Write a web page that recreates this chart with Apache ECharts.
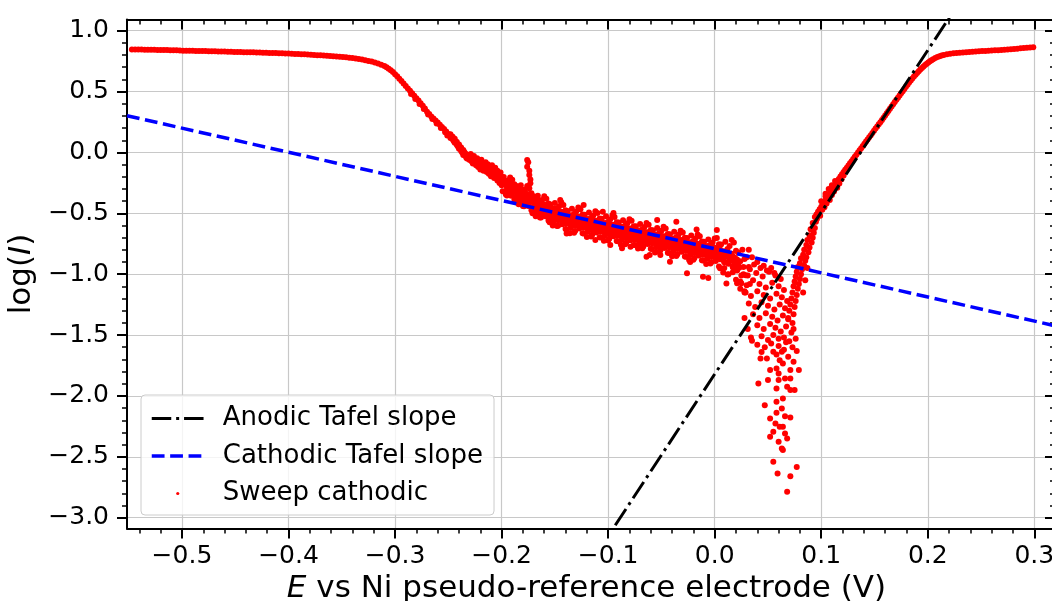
<!DOCTYPE html>
<html>
<head>
<meta charset="utf-8">
<script src="https://cdn.jsdelivr.net/npm/echarts@6/dist/echarts.min.js"></script>
<style>
html,body{margin:0;padding:0;background:#fff;}
#chart{width:1052px;height:601px;}
</style>
</head>
<body>
<div id="chart"></div>
<script>
// Tick positions
const xTicks = [-0.5, -0.4, -0.3, -0.2, -0.1, 0.0, 0.1, 0.2, 0.3];
const yTicks = [-3.0, -2.5, -2.0, -1.5, -1.0, -0.5, 0.0, 0.5, 1.0];

// Tafel fit lines (two end points each, clipped by the axes)
const anodicTafel = [[-0.110, -3.284], [0.235, 1.305]];
const cathodicTafel = [[-0.5516, 0.302], [0.319, -1.423]];

// Cathodic sweep, log(I) against E
const sweepPlateauLow = [
[-0.547,0.846],[-0.544,0.846],[-0.541,0.845],[-0.538,0.845],[-0.535,0.844],[-0.532,0.844],[-0.529,0.843],[-0.526,0.843],
[-0.523,0.842],[-0.520,0.842],[-0.517,0.841],[-0.514,0.841],[-0.511,0.840],[-0.508,0.840],[-0.505,0.839],[-0.502,0.838],
[-0.499,0.836],[-0.496,0.836],[-0.493,0.835],[-0.490,0.835],[-0.487,0.834],[-0.484,0.834],[-0.481,0.833],[-0.478,0.833],
[-0.475,0.832],[-0.472,0.831],[-0.469,0.831],[-0.466,0.830],[-0.463,0.829],[-0.460,0.829],[-0.457,0.828],[-0.454,0.827],
[-0.451,0.826],[-0.448,0.826],[-0.445,0.825],[-0.442,0.824],[-0.439,0.823],[-0.436,0.822],[-0.433,0.822],[-0.430,0.821],
[-0.427,0.820],[-0.424,0.819],[-0.421,0.818],[-0.418,0.817],[-0.415,0.816],[-0.412,0.816],[-0.409,0.815],[-0.406,0.814],
[-0.403,0.813],[-0.400,0.812],[-0.397,0.810],[-0.394,0.809],[-0.391,0.808],[-0.388,0.807],[-0.385,0.806],[-0.382,0.804],
[-0.379,0.803],[-0.376,0.801],[-0.373,0.799],[-0.370,0.798],[-0.367,0.796],[-0.364,0.794],[-0.361,0.792],[-0.358,0.790],
[-0.355,0.788],[-0.352,0.786],[-0.349,0.783],[-0.346,0.781],[-0.343,0.778],[-0.340,0.775],[-0.337,0.771],[-0.334,0.767],
[-0.331,0.763],[-0.328,0.758],[-0.325,0.752],[-0.322,0.746],[-0.319,0.739],[-0.316,0.731],[-0.313,0.721],[-0.310,0.710]
];
const sweepFall = [
[-0.308,0.700],[-0.306,0.688],[-0.304,0.675],[-0.302,0.660],[-0.300,0.643],[-0.298,0.625],[-0.296,0.606],[-0.294,0.586],
[-0.292,0.566],[-0.290,0.546],[-0.288,0.526],[-0.286,0.506],[-0.284,0.486],[-0.282,0.466],[-0.280,0.446],[-0.278,0.426],
[-0.276,0.405],[-0.274,0.384],[-0.272,0.360],[-0.270,0.335],[-0.268,0.315],[-0.266,0.296],[-0.264,0.279],[-0.262,0.262],
[-0.260,0.245],[-0.258,0.228],[-0.256,0.210],[-0.254,0.192],[-0.252,0.172],[-0.250,0.152],
[-0.285,0.480],[-0.281,0.440],[-0.277,0.398],[-0.273,0.356],[-0.269,0.312],[-0.265,0.275],[-0.261,0.238],[-0.257,0.200],
[-0.253,0.165],[-0.251,0.140],
[-0.248,0.150],[-0.248,0.118],[-0.247,0.132],[-0.246,0.108],[-0.246,0.128],[-0.245,0.095],[-0.244,0.112],[-0.244,0.080],
[-0.243,0.090],[-0.242,0.062],[-0.242,0.085],[-0.241,0.048],[-0.240,0.066],[-0.240,0.030],[-0.239,0.045],[-0.238,0.012],
[-0.238,0.040],[-0.237,0.000],[-0.236,0.020],[-0.236,-0.022],[-0.235,0.004],[-0.234,-0.030],[-0.234,-0.008],[-0.233,-0.045],
[-0.232,-0.018],[-0.232,-0.052],[-0.231,-0.030],[-0.230,-0.062],[-0.230,-0.040],[-0.229,-0.012],[-0.228,-0.075],[-0.228,-0.050],
[-0.227,-0.090],[-0.226,-0.062],[-0.226,-0.030],[-0.225,-0.085],[-0.224,-0.105],[-0.224,-0.070],[-0.223,-0.048],[-0.222,-0.095],
[-0.222,-0.120],[-0.221,-0.075],[-0.220,-0.110],[-0.220,-0.140],[-0.219,-0.060],[-0.218,-0.125],[-0.218,-0.092],[-0.217,-0.150],
[-0.216,-0.110],[-0.216,-0.135],[-0.215,-0.080],[-0.214,-0.160],[-0.214,-0.125],[-0.213,-0.098],[-0.212,-0.145],[-0.212,-0.175],
[-0.211,-0.120],[-0.210,-0.160],[-0.210,-0.195],[-0.209,-0.105],[-0.208,-0.140],[-0.208,-0.180],[-0.207,-0.210],[-0.206,-0.160],
[-0.206,-0.125],[-0.205,-0.195],[-0.204,-0.230],[-0.204,-0.150],[-0.203,-0.180],[-0.202,-0.215],[-0.202,-0.250],[-0.201,-0.165],
[-0.200,-0.200],[-0.200,-0.270],[-0.199,-0.235]
];
const sweepBand = [
[-0.198,-0.202],[-0.196,-0.234],[-0.197,-0.262],[-0.195,-0.290],[-0.199,-0.318],[-0.196,-0.346],
[-0.194,-0.231],[-0.192,-0.265],[-0.193,-0.294],[-0.191,-0.324],[-0.195,-0.354],[-0.192,-0.205],
[-0.190,-0.225],[-0.188,-0.261],[-0.189,-0.292],[-0.187,-0.324],[-0.191,-0.355],[-0.188,-0.387],
[-0.186,-0.276],[-0.184,-0.312],[-0.185,-0.339],[-0.183,-0.371],[-0.187,-0.402],[-0.184,-0.425],
[-0.182,-0.269],[-0.180,-0.307],[-0.181,-0.341],[-0.179,-0.374],[-0.183,-0.407],[-0.180,-0.440],
[-0.178,-0.304],[-0.176,-0.342],[-0.177,-0.375],[-0.175,-0.408],[-0.179,-0.441],[-0.176,-0.275],
[-0.174,-0.295],[-0.172,-0.335],[-0.173,-0.370],[-0.171,-0.405],[-0.175,-0.440],[-0.172,-0.475],
[-0.170,-0.360],[-0.168,-0.400],[-0.169,-0.430],[-0.167,-0.465],[-0.171,-0.500],[-0.168,-0.525],
[-0.166,-0.355],[-0.164,-0.395],[-0.165,-0.430],[-0.163,-0.465],[-0.167,-0.500],[-0.164,-0.535],
[-0.162,-0.390],[-0.160,-0.430],[-0.161,-0.465],[-0.159,-0.500],[-0.163,-0.535],[-0.160,-0.360],
[-0.158,-0.380],[-0.156,-0.420],[-0.157,-0.455],[-0.155,-0.490],[-0.159,-0.525],[-0.156,-0.560],
[-0.154,-0.427],[-0.152,-0.469],[-0.153,-0.501],[-0.151,-0.537],[-0.155,-0.574],[-0.152,-0.600],
[-0.150,-0.416],[-0.148,-0.458],[-0.149,-0.495],[-0.147,-0.531],[-0.151,-0.568],[-0.148,-0.605],
[-0.146,-0.443],[-0.144,-0.487],[-0.145,-0.526],[-0.143,-0.564],[-0.147,-0.603],[-0.144,-0.410],
[-0.142,-0.431],[-0.140,-0.475],[-0.141,-0.513],[-0.139,-0.552],[-0.143,-0.590],[-0.140,-0.629],
[-0.138,-0.481],[-0.136,-0.525],[-0.137,-0.558],[-0.135,-0.597],[-0.139,-0.635],[-0.136,-0.663],
[-0.134,-0.462],[-0.132,-0.506],[-0.133,-0.544],[-0.131,-0.583],[-0.135,-0.621],[-0.132,-0.660],
[-0.130,-0.485],[-0.128,-0.529],[-0.129,-0.568],[-0.127,-0.606],[-0.131,-0.645],[-0.128,-0.452],
[-0.126,-0.466],[-0.124,-0.510],[-0.125,-0.548],[-0.123,-0.587],[-0.127,-0.625],[-0.124,-0.664],
[-0.122,-0.512],[-0.120,-0.556],[-0.121,-0.589],[-0.119,-0.628],[-0.123,-0.666],[-0.120,-0.694],
[-0.118,-0.493],[-0.116,-0.537],[-0.117,-0.575],[-0.115,-0.614],[-0.119,-0.652],[-0.116,-0.691],
[-0.114,-0.517],[-0.112,-0.561],[-0.113,-0.600],[-0.111,-0.638],[-0.115,-0.677],[-0.112,-0.484],
[-0.110,-0.498],[-0.108,-0.542],[-0.109,-0.580],[-0.107,-0.619],[-0.111,-0.657],[-0.108,-0.696],
[-0.106,-0.544],[-0.104,-0.588],[-0.105,-0.621],[-0.103,-0.660],[-0.107,-0.698],[-0.104,-0.726],
[-0.102,-0.525],[-0.100,-0.569],[-0.101,-0.607],[-0.099,-0.646],[-0.103,-0.684],[-0.100,-0.723],
[-0.098,-0.549],[-0.096,-0.593],[-0.097,-0.632],[-0.095,-0.670],[-0.099,-0.709],[-0.096,-0.516],
[-0.094,-0.530],[-0.092,-0.574],[-0.093,-0.612],[-0.091,-0.651],[-0.095,-0.689],[-0.092,-0.728],
[-0.090,-0.576],[-0.088,-0.620],[-0.089,-0.653],[-0.087,-0.692],[-0.091,-0.730],[-0.088,-0.758],
[-0.086,-0.557],[-0.084,-0.601],[-0.085,-0.639],[-0.083,-0.678],[-0.087,-0.716],[-0.084,-0.755],
[-0.082,-0.581],[-0.080,-0.625],[-0.081,-0.664],[-0.079,-0.702],[-0.083,-0.741],[-0.080,-0.548],
[-0.078,-0.562],[-0.076,-0.606],[-0.077,-0.644],[-0.075,-0.683],[-0.079,-0.721],[-0.076,-0.760],
[-0.074,-0.607],[-0.072,-0.651],[-0.073,-0.684],[-0.071,-0.723],[-0.075,-0.761],[-0.072,-0.789],
[-0.070,-0.588],[-0.068,-0.632],[-0.069,-0.670],[-0.067,-0.709],[-0.071,-0.747],[-0.068,-0.786],
[-0.066,-0.612],[-0.064,-0.656],[-0.065,-0.695],[-0.063,-0.733],[-0.067,-0.772],[-0.064,-0.579],
[-0.062,-0.593],[-0.060,-0.637],[-0.061,-0.675],[-0.059,-0.714],[-0.063,-0.752],[-0.060,-0.791],
[-0.058,-0.639],[-0.056,-0.683],[-0.057,-0.716],[-0.055,-0.755],[-0.059,-0.793],[-0.056,-0.821],
[-0.054,-0.620],[-0.052,-0.664],[-0.053,-0.702],[-0.051,-0.741],[-0.055,-0.779],[-0.052,-0.818],
[-0.050,-0.644],[-0.048,-0.688],[-0.049,-0.727],[-0.047,-0.765],[-0.051,-0.804],[-0.048,-0.611],
[-0.046,-0.625],[-0.044,-0.669],[-0.045,-0.707],[-0.043,-0.746],[-0.047,-0.784],[-0.044,-0.823],
[-0.042,-0.671],[-0.040,-0.715],[-0.041,-0.748],[-0.039,-0.787],[-0.043,-0.825],[-0.040,-0.853],
[-0.038,-0.652],[-0.036,-0.696],[-0.037,-0.734],[-0.035,-0.773],[-0.039,-0.811],[-0.036,-0.850],
[-0.034,-0.676],[-0.032,-0.720],[-0.033,-0.759],[-0.031,-0.797],[-0.035,-0.836],[-0.032,-0.643],
[-0.030,-0.657],[-0.028,-0.701],[-0.029,-0.739],[-0.027,-0.778],[-0.031,-0.816],[-0.028,-0.855],
[-0.026,-0.702],[-0.024,-0.746],[-0.025,-0.779],[-0.023,-0.818],[-0.027,-0.856],[-0.024,-0.884],
[-0.022,-0.683],[-0.020,-0.727],[-0.021,-0.765],[-0.019,-0.804],[-0.023,-0.842],[-0.020,-0.881],
[-0.018,-0.707],[-0.016,-0.751],[-0.017,-0.790],[-0.015,-0.828],[-0.019,-0.867],[-0.016,-0.674],
[-0.014,-0.688],[-0.012,-0.732],[-0.013,-0.770],[-0.011,-0.809],[-0.015,-0.847],[-0.012,-0.886],
[-0.010,-0.734],[-0.008,-0.778],[-0.009,-0.811],[-0.007,-0.850],[-0.011,-0.888],[-0.008,-0.916],
[-0.006,-0.715],[-0.004,-0.759],[-0.005,-0.797],[-0.003,-0.836],[-0.007,-0.874],[-0.004,-0.913],
[-0.002,-0.739],[0.000,-0.783],[-0.001,-0.822],[0.001,-0.860],[-0.003,-0.899],[0.000,-0.706],
[0.002,-0.703],[0.004,-0.755],[0.003,-0.800],[0.005,-0.846],[0.001,-0.891],[0.004,-0.937],
[0.006,-0.756],[0.008,-0.812],[0.007,-0.854],[0.009,-0.903],[0.005,-0.952],[0.008,-0.987],
[0.010,-0.733],[0.012,-0.793],[0.011,-0.845],[0.013,-0.898],[0.009,-0.950],[0.012,-1.003],
[0.014,-0.768],[0.016,-0.832],[0.015,-0.888],[0.017,-0.944],[0.013,-1.000],[0.016,-0.720],
[0.018,-0.739],[0.020,-0.807],[0.019,-0.866],[0.021,-0.926],[0.017,-0.985],[0.020,-1.045],
[0.022,-0.822],[0.024,-0.894],[0.023,-0.948],[0.025,-1.011],[0.021,-1.074],[0.024,-1.119],
[0.026,-0.799],[0.028,-0.875],[0.027,-0.941],[0.029,-1.008],[0.025,-1.074],[0.028,-1.141],
[0.030,-0.860],[0.032,-0.940],[0.031,-1.010],[0.033,-1.080],[0.029,-1.150],[0.032,-0.800],
[0.035,-0.860],[0.037,-0.920],[0.040,-0.900],[0.043,-0.950],[0.046,-0.930],[0.049,-0.970],[0.053,-0.950],[0.056,-0.990]
];
const sweepBandCore = [
[-0.195,-0.245],[-0.194,-0.285],[-0.195,-0.325],[-0.191,-0.265],[-0.190,-0.305],[-0.191,-0.345],
[-0.187,-0.285],[-0.186,-0.325],[-0.187,-0.365],[-0.183,-0.305],[-0.182,-0.345],[-0.183,-0.385],
[-0.179,-0.325],[-0.178,-0.365],[-0.179,-0.405],[-0.175,-0.345],[-0.174,-0.385],[-0.175,-0.425],
[-0.171,-0.370],[-0.170,-0.410],[-0.171,-0.450],[-0.167,-0.395],[-0.166,-0.435],[-0.167,-0.475],
[-0.163,-0.415],[-0.162,-0.455],[-0.163,-0.495],[-0.159,-0.432],[-0.158,-0.472],[-0.159,-0.512],
[-0.155,-0.447],[-0.154,-0.487],[-0.155,-0.527],[-0.151,-0.462],[-0.150,-0.502],[-0.151,-0.542],
[-0.147,-0.477],[-0.146,-0.517],[-0.147,-0.557],[-0.143,-0.492],[-0.142,-0.532],[-0.143,-0.572],
[-0.139,-0.506],[-0.138,-0.546],[-0.139,-0.586],[-0.135,-0.516],[-0.134,-0.556],[-0.135,-0.596],
[-0.131,-0.523],[-0.130,-0.563],[-0.131,-0.603],[-0.127,-0.531],[-0.126,-0.571],[-0.127,-0.611],
[-0.123,-0.539],[-0.122,-0.579],[-0.123,-0.619],[-0.119,-0.547],[-0.118,-0.587],[-0.119,-0.627],
[-0.115,-0.555],[-0.114,-0.595],[-0.115,-0.635],[-0.111,-0.563],[-0.110,-0.603],[-0.111,-0.643],
[-0.107,-0.571],[-0.106,-0.611],[-0.107,-0.651],[-0.103,-0.579],[-0.102,-0.619],[-0.103,-0.659],
[-0.099,-0.587],[-0.098,-0.627],[-0.099,-0.667],[-0.095,-0.595],[-0.094,-0.635],[-0.095,-0.675],
[-0.091,-0.603],[-0.090,-0.643],[-0.091,-0.683],[-0.087,-0.611],[-0.086,-0.651],[-0.087,-0.691],
[-0.083,-0.619],[-0.082,-0.659],[-0.083,-0.699],[-0.079,-0.627],[-0.078,-0.667],[-0.079,-0.707],
[-0.075,-0.635],[-0.074,-0.675],[-0.075,-0.715],[-0.071,-0.642],[-0.070,-0.682],[-0.071,-0.722],
[-0.067,-0.650],[-0.066,-0.690],[-0.067,-0.730],[-0.063,-0.658],[-0.062,-0.698],[-0.063,-0.738],
[-0.059,-0.666],[-0.058,-0.706],[-0.059,-0.746],[-0.055,-0.674],[-0.054,-0.714],[-0.055,-0.754],
[-0.051,-0.682],[-0.050,-0.722],[-0.051,-0.762],[-0.047,-0.690],[-0.046,-0.730],[-0.047,-0.770],
[-0.043,-0.698],[-0.042,-0.738],[-0.043,-0.778],[-0.039,-0.706],[-0.038,-0.746],[-0.039,-0.786],
[-0.035,-0.714],[-0.034,-0.754],[-0.035,-0.794],[-0.031,-0.722],[-0.030,-0.762],[-0.031,-0.802],
[-0.027,-0.730],[-0.026,-0.770],[-0.027,-0.810],[-0.023,-0.737],[-0.022,-0.777],[-0.023,-0.817],
[-0.019,-0.745],[-0.018,-0.785],[-0.019,-0.825],[-0.015,-0.753],[-0.014,-0.793],[-0.015,-0.833],
[-0.011,-0.761],[-0.010,-0.801],[-0.011,-0.841],[-0.007,-0.769],[-0.006,-0.809],[-0.007,-0.849],
[-0.003,-0.777],[-0.002,-0.817],[-0.003,-0.857],[0.001,-0.786],[0.002,-0.826],[0.001,-0.866],
[0.005,-0.798],[0.006,-0.838],[0.005,-0.878],[0.009,-0.815],[0.010,-0.855],[0.009,-0.895],
[0.013,-0.835],[0.014,-0.875],[0.013,-0.915],[0.017,-0.855],[0.018,-0.895],[0.017,-0.935],
[0.021,-0.880],[0.022,-0.920],[0.021,-0.960]
];
const sweepStray = [
[-0.176,-0.062],[-0.175,-0.080],[-0.176,-0.118],[-0.174,-0.150],[-0.174,-0.186],[-0.173,-0.222],[-0.173,-0.254],
[-0.145,-0.391],[-0.123,-0.432],[-0.105,-0.487],[-0.095,-0.498],[-0.054,-0.555],[-0.036,-0.569],[-0.017,-0.632],[0.002,-0.638],
[-0.087,-0.788],[-0.061,-0.843],[-0.042,-0.898],[-0.026,-0.993],[-0.011,-1.021],[-0.006,-1.032],[0.011,-1.076],[-0.139,-0.665],
[-0.064,-0.857],[-0.079,-0.775],[-0.112,-0.720],[-0.098,-0.761],[-0.023,-0.900],[-0.051,-0.843]
];
const sweepDip = [
[0.021,-0.970],[0.027,-1.000],[0.033,-0.960],[0.039,-0.990],[0.045,-1.020],[0.051,-0.980],[0.057,-1.010],[0.062,-1.040],
[0.024,-1.060],[0.030,-1.090],[0.036,-1.050],[0.042,-1.080],[0.048,-1.110],[0.054,-1.070],[0.060,-1.100],[0.065,-1.130],
[0.028,-1.150],[0.034,-1.180],[0.040,-1.140],[0.046,-1.170],[0.052,-1.200],[0.058,-1.160],[0.063,-1.190],[0.068,-1.220],
[0.032,-1.240],[0.038,-1.270],[0.044,-1.230],[0.050,-1.260],[0.056,-1.290],[0.061,-1.250],[0.066,-1.280],
[0.036,-1.330],[0.042,-1.360],[0.048,-1.320],[0.054,-1.350],[0.059,-1.380],[0.064,-1.340],[0.069,-1.370],[0.074,-1.450],
[0.040,-1.420],[0.046,-1.450],[0.052,-1.410],[0.057,-1.440],[0.062,-1.470],[0.067,-1.430],[0.072,-1.480],
[0.044,-1.510],[0.050,-1.540],[0.055,-1.500],[0.060,-1.530],[0.065,-1.520],[0.070,-1.550],[0.076,-1.530],
[0.031,-1.450],[0.034,-1.520],[0.028,-1.360],[0.035,-1.547],
[0.040,-1.580],[0.047,-1.600],[0.053,-1.570],[0.060,-1.590],[0.067,-1.560],[0.073,-1.600],[0.077,-1.630],[0.044,-1.640],
[0.058,-1.660],[0.065,-1.620],
[0.049,-1.692],[0.061,-1.706],[0.074,-1.720],[0.069,-1.679],[0.055,-1.638],[0.063,-1.638],[0.064,-1.733],[0.043,-1.692],
[0.052,-1.788],[0.060,-1.815],[0.066,-1.856],[0.079,-1.788],[0.071,-1.788],[0.058,-1.774],[0.071,-1.856],[0.060,-1.870],
[0.050,-1.870],[0.041,-1.897],[0.075,-1.952],[0.058,-1.938],[0.068,-1.925],[0.071,-1.952],[0.064,-2.021],[0.047,-2.076],
[0.058,-2.048],[0.063,-2.103],[0.058,-2.139],[0.066,-2.166],[0.052,-2.185],[0.071,-2.177],[0.057,-2.226],[0.061,-2.254],
[0.064,-2.254],[0.055,-2.295],[0.066,-2.308],[0.052,-2.336],[0.068,-2.349],[0.060,-2.377],[0.063,-2.431],[0.064,-2.445],
[0.055,-2.541],[0.077,-2.583],[0.059,-2.637],[0.071,-2.659],[0.068,-2.788],
[0.095,-0.570],[0.092,-0.580],[0.094,-0.620],[0.090,-0.630],[0.093,-0.660],[0.089,-0.680],[0.092,-0.700],[0.087,-0.720],
[0.091,-0.740],[0.086,-0.760],[0.089,-0.780],[0.084,-0.800],[0.088,-0.820],[0.083,-0.840],[0.086,-0.860],[0.081,-0.870],
[0.085,-0.890],[0.080,-0.910],[0.084,-0.930],[0.078,-0.940],[0.082,-0.960],[0.077,-0.980],[0.081,-1.000],[0.076,-1.020],
[0.080,-1.040],[0.075,-1.060],[0.079,-1.080],[0.074,-1.100],[0.078,-1.120],[0.073,-1.150],[0.077,-1.170],[0.072,-1.200],
[0.076,-1.220],[0.071,-1.250],[0.075,-1.270],[0.070,-1.300],[0.074,-1.330],[0.069,-1.360],[0.073,-1.400],[0.087,-0.950],
[0.085,-1.050],[0.083,-1.150]
];
const sweepRise = [
[0.094,-0.530],[0.0955,-0.509],[0.097,-0.488],[0.0985,-0.467],[0.100,-0.446],[0.1015,-0.425],[0.103,-0.404],[0.1045,-0.383],
[0.106,-0.362],[0.1075,-0.341],[0.109,-0.320],[0.1105,-0.299],[0.112,-0.278],[0.1135,-0.258],[0.115,-0.238],[0.1165,-0.218],
[0.118,-0.197],[0.1195,-0.179],[0.121,-0.161],[0.1225,-0.143],[0.124,-0.125],[0.1255,-0.107],[0.127,-0.089],[0.1285,-0.072],
[0.130,-0.054],[0.1315,-0.036],[0.133,-0.018],[0.1345,0.000],[0.136,0.017],[0.1375,0.035],[0.139,0.053],[0.1405,0.071],
[0.142,0.089],[0.1435,0.107],[0.145,0.124],[0.1465,0.142],[0.148,0.160],[0.1495,0.178],[0.151,0.196],[0.1525,0.214],
[0.154,0.231],[0.1555,0.249],[0.157,0.267],[0.1585,0.285],[0.160,0.304],[0.1615,0.322],[0.163,0.340],[0.1645,0.359],
[0.166,0.377],[0.1675,0.395],[0.169,0.414],[0.1705,0.432],[0.172,0.450],[0.1735,0.468],[0.175,0.486],[0.1765,0.503],
[0.178,0.521],[0.1795,0.539],[0.181,0.557],[0.1825,0.574],[0.184,0.591],[0.1855,0.607],[0.187,0.623],[0.1885,0.638],
[0.190,0.653],[0.1915,0.667],[0.193,0.681],[0.1945,0.694],[0.196,0.706],[0.1975,0.718],[0.199,0.729],[0.2005,0.739],
[0.202,0.749],[0.2035,0.758],[0.205,0.766],[0.207,0.775],[0.209,0.783],[0.211,0.790],[0.213,0.796],[0.215,0.801],
[0.218,0.806],[0.221,0.810],[0.224,0.814],[0.227,0.817],
[0.096,-0.545],[0.099,-0.520],[0.101,-0.470],[0.103,-0.450],[0.105,-0.420],[0.108,-0.390],[0.110,-0.350],[0.112,-0.320],
[0.115,-0.290],[0.117,-0.255],[0.119,-0.220],[0.121,-0.190],[0.110,-0.270],[0.107,-0.300],[0.104,-0.340],[0.113,-0.235],
[0.100,-0.400],[0.104,-0.360]
];
const sweepPlateauHigh = [
[0.230,0.819],[0.233,0.821],[0.236,0.823],[0.239,0.825],[0.242,0.827],[0.245,0.829],[0.248,0.831],[0.251,0.833],
[0.254,0.834],[0.257,0.836],[0.260,0.837],[0.263,0.839],[0.266,0.840],[0.269,0.842],[0.272,0.844],[0.275,0.846],
[0.278,0.848],[0.281,0.850],[0.284,0.852],[0.287,0.855],[0.290,0.857],[0.293,0.860],[0.296,0.862],[0.299,0.864]
];

const sweepCathodic = [].concat(sweepPlateauLow, sweepFall, sweepBand, sweepBandCore, sweepStray, sweepDip, sweepRise, sweepPlateauHigh);

const FONT = 'DejaVu Sans';
const X_RANGE = [-0.5516, 0.3194];
const Y_RANGE = [-3.089, 1.092];
const fmt = v => (v < 0 ? '\u2212' : '') + Math.abs(v).toFixed(1);

const spine = { show: true, onZero: false, lineStyle: { color: '#000', width: 2 } };
const minor = { show: true, splitNumber: 5, length: 5, lineStyle: { color: '#000', width: 1.5 } };
const grid = { show: true, lineStyle: { color: '#c8c8c8', width: 1.2 } };

const chart = echarts.init(document.getElementById('chart'), null, { renderer: 'canvas' });
chart.setOption({
  animation: false,
  backgroundColor: '#fff',
  grid: { left: 127, top: 19.5, width: 928, height: 509, containLabel: false, outerBoundsMode: 'none' },
  xAxis: [{
    type: 'value', position: 'bottom', min: X_RANGE[0], max: X_RANGE[1], minInterval: 0.1, maxInterval: 0.1,
    axisLine: spine,
    axisTick: { show: true, inside: false, length: 10, customValues: xTicks, lineStyle: { color: '#000', width: 2 } },
    minorTick: minor,
    axisLabel: { show: true, margin: 15, customValues: xTicks, formatter: fmt, fontSize: 25, fontFamily: FONT, color: '#000' },
    splitLine: grid,
    name: '{it|E} vs Ni pseudo-reference electrode (V)', nameLocation: 'middle', nameGap: 43,
    nameTextStyle: { fontSize: 31, fontFamily: FONT, color: '#000', padding: [0, 9, 0, 0],
      rich: { it: { fontStyle: 'italic', fontSize: 31, fontFamily: FONT, color: '#000' } } }
  }, {
    type: 'value', position: 'top', min: X_RANGE[0], max: X_RANGE[1], minInterval: 0.1, maxInterval: 0.1,
    axisLine: spine,
    axisTick: { show: true, inside: true, length: 10, customValues: xTicks, lineStyle: { color: '#000', width: 2 } },
    minorTick: minor,
    axisLabel: { show: false },
    splitLine: { show: false }
  }],
  yAxis: [{
    type: 'value', position: 'left', min: Y_RANGE[0], max: Y_RANGE[1], minInterval: 0.5, maxInterval: 0.5,
    axisLine: spine,
    axisTick: { show: true, inside: false, length: 10, customValues: yTicks, lineStyle: { color: '#000', width: 2 } },
    minorTick: minor,
    axisLabel: { show: true, margin: 18, customValues: yTicks, formatter: fmt, fontSize: 25, fontFamily: FONT, color: '#000' },
    splitLine: grid,
    name: 'log({it|I})', nameLocation: 'middle', nameGap: 87, nameRotate: 90,
    nameTextStyle: { fontSize: 31, fontFamily: FONT, color: '#000',
      rich: { it: { fontStyle: 'italic', fontSize: 31, fontFamily: FONT, color: '#000' } } }
  }, {
    type: 'value', position: 'right', min: Y_RANGE[0], max: Y_RANGE[1], minInterval: 0.5, maxInterval: 0.5,
    axisLine: spine,
    axisTick: { show: true, inside: true, length: 10, customValues: yTicks, lineStyle: { color: '#000', width: 2 } },
    minorTick: minor,
    axisLabel: { show: false },
    splitLine: { show: false }
  }],
  legend: {
    orient: 'vertical', left: 141, top: 395, itemWidth: 52, itemHeight: 14, itemGap: 7.5,
    padding: [8.5, 11, 6.5, 9], selectedMode: false,
    backgroundColor: 'rgba(255,255,255,0.8)', borderColor: '#cccccc', borderWidth: 1, borderRadius: 4,
    textStyle: { fontSize: 26, fontFamily: FONT, color: '#000', padding: [0, 0, 0, 14], lineHeight: 30 },
    data: [
      { name: 'Anodic Tafel slope', itemStyle: { opacity: 0 },
        lineStyle: { color: '#000', width: 3, type: [19.5, 4.9, 3, 4.9], opacity: 1 } },
      { name: 'Cathodic Tafel slope', itemStyle: { opacity: 0 },
        lineStyle: { color: '#0000ff', width: 3.5, type: [12.8, 5.6], opacity: 1 } },
      { name: 'Sweep cathodic',
        icon: 'path://M0,0M52,14M24.4,7a1.6,1.6 0 1 0 3.2,0a1.6,1.6 0 1 0 -3.2,0Z' }
    ]
  },
  series: [{
    name: 'Anodic Tafel slope', type: 'line', xAxisIndex: 0, yAxisIndex: 0, data: anodicTafel,
    symbol: 'none', clip: true, z: 4, silent: true,
    lineStyle: { color: '#000', width: 3, type: [19.5, 4.9, 3, 4.9] }, itemStyle: { color: '#000' }
  }, {
    name: 'Cathodic Tafel slope', type: 'line', xAxisIndex: 0, yAxisIndex: 0, data: cathodicTafel,
    symbol: 'none', clip: true, z: 4, silent: true,
    lineStyle: { color: '#0000ff', width: 3.5, type: [12.8, 5.6] }, itemStyle: { color: '#0000ff' }
  }, {
    name: 'Sweep cathodic', type: 'scatter', xAxisIndex: 0, yAxisIndex: 0, data: sweepCathodic,
    symbol: 'circle', symbolSize: 6, clip: true, z: 2, silent: true,
    itemStyle: { color: '#ff0000', opacity: 1 }
  }]
});
</script>
</body>
</html>
